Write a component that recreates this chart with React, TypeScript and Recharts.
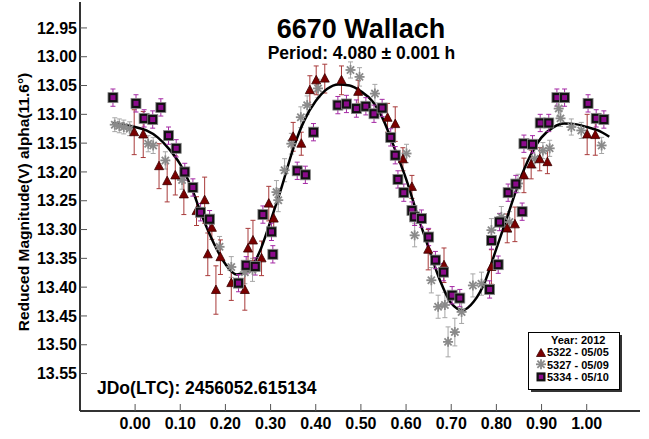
import React from 'react';
import { ComposedChart, Scatter, Line, XAxis, YAxis, ErrorBar } from 'recharts';

const FONT = '"Liberation Sans", Arial, sans-serif';

const X_TICKS = [0, 0.1, 0.2, 0.3, 0.4, 0.5, 0.6, 0.7, 0.8, 0.9, 1.0];
const Y_TICKS = [12.95, 13.0, 13.05, 13.1, 13.15, 13.2, 13.25, 13.3, 13.35, 13.4, 13.45, 13.5, 13.55];

// [phase, magnitude, error]
const SESSION_5322 = [
  [-0.002, 13.131, 0.039], [0.018, 13.135, 0.04], [0.053, 13.19, 0.039], [0.071, 13.216, 0.036],
  [0.089, 13.206, 0.034], [0.108, 13.239, 0.035], [0.136, 13.268, 0.025], [0.154, 13.249, 0.04],
  [0.17, 13.297, 0.02], [0.161, 13.343, 0.037], [0.179, 13.405, 0.042], [0.189, 13.348, 0.03],
  [0.213, 13.393, 0.03], [0.243, 13.405, 0.035], [0.25, 13.333, 0.035], [0.261, 13.319, 0.035],
  [0.28, 13.35, 0.03], [0.296, 13.255, 0.03], [0.307, 13.281, 0.02], [0.35, 13.139, 0.025],
  [0.368, 13.151, 0.02], [0.387, 13.058, 0.025], [0.401, 13.041, 0.025], [0.42, 13.038, 0.025],
  [0.457, 13.041, 0.025], [0.494, 13.061, 0.02], [0.559, 13.106, 0.025], [0.576, 13.117, 0.03],
  [0.593, 13.178, 0.02], [0.613, 13.226, 0.02], [0.649, 13.335, 0.035], [0.684, 13.362, 0.03],
  [0.789, 13.365, 0.03], [0.824, 13.298, 0.025], [0.841, 13.291, 0.03], [0.861, 13.206, 0.03],
  [0.877, 13.187, 0.025], [0.896, 13.178, 0.02], [0.913, 13.183, 0.02], [1.001, 13.135, 0.035],
  [1.019, 13.136, 0.035],
];

const SESSION_5327 = [
  [-0.045, 13.118, 0.012], [-0.035, 13.12, 0.012], [-0.025, 13.122, 0.012], [-0.012, 13.125, 0.012],
  [0.029, 13.151, 0.014], [0.04, 13.154, 0.014], [0.067, 13.18, 0.015], [0.104, 13.214, 0.016],
  [0.187, 13.33, 0.018], [0.213, 13.365, 0.018], [0.243, 13.374, 0.02], [0.26, 13.37, 0.02],
  [0.313, 13.235, 0.02], [0.317, 13.249, 0.02], [0.331, 13.197, 0.02], [0.346, 13.151, 0.018],
  [0.367, 13.105, 0.018], [0.381, 13.084, 0.016], [0.405, 13.055, 0.016], [0.477, 13.023, 0.014],
  [0.497, 13.035, 0.016], [0.531, 13.064, 0.016], [0.601, 13.168, 0.016], [0.619, 13.31, 0.02],
  [0.656, 13.388, 0.022], [0.671, 13.434, 0.02], [0.686, 13.431, 0.022], [0.693, 13.495, 0.026],
  [0.708, 13.478, 0.024], [0.723, 13.443, 0.02], [0.748, 13.397, 0.02], [0.767, 13.394, 0.02],
  [0.789, 13.301, 0.02], [0.811, 13.278, 0.018], [0.829, 13.287, 0.018], [0.848, 13.22, 0.016],
  [0.885, 13.177, 0.016], [0.903, 13.163, 0.014], [0.918, 13.159, 0.014], [0.938, 13.09, 0.014],
  [0.942, 13.107, 0.014], [0.966, 13.122, 0.014], [0.988, 13.128, 0.014], [1.033, 13.154, 0.014],
];

const SESSION_5334 = [
  [-0.049, 13.071, 0.015], [0.002, 13.081, 0.015], [0.02, 13.107, 0.015], [0.039, 13.109, 0.015],
  [0.057, 13.088, 0.015], [0.074, 13.137, 0.015], [0.091, 13.159, 0.015], [0.11, 13.2, 0.015],
  [0.128, 13.227, 0.015], [0.145, 13.27, 0.015], [0.165, 13.282, 0.015], [0.229, 13.393, 0.015],
  [0.246, 13.362, 0.015], [0.266, 13.364, 0.015], [0.283, 13.274, 0.015], [0.302, 13.304, 0.015],
  [0.305, 13.343, 0.015], [0.359, 13.198, 0.015], [0.377, 13.205, 0.015], [0.395, 13.131, 0.015],
  [0.449, 13.084, 0.015], [0.468, 13.082, 0.015], [0.49, 13.09, 0.015], [0.511, 13.086, 0.015],
  [0.529, 13.099, 0.015], [0.547, 13.089, 0.015], [0.566, 13.14, 0.015], [0.576, 13.171, 0.015],
  [0.582, 13.213, 0.015], [0.595, 13.236, 0.015], [0.613, 13.267, 0.015], [0.619, 13.278, 0.015],
  [0.634, 13.281, 0.015], [0.65, 13.313, 0.015], [0.665, 13.353, 0.015], [0.683, 13.374, 0.015],
  [0.702, 13.414, 0.015], [0.719, 13.419, 0.015], [0.785, 13.404, 0.015], [0.789, 13.319, 0.015],
  [0.804, 13.361, 0.015], [0.807, 13.287, 0.015], [0.826, 13.236, 0.015], [0.843, 13.221, 0.015],
  [0.857, 13.269, 0.015], [0.861, 13.151, 0.015], [0.88, 13.152, 0.015], [0.897, 13.115, 0.015],
  [0.916, 13.115, 0.015], [0.934, 13.071, 0.015], [0.951, 13.071, 0.015], [1.003, 13.081, 0.015],
  [1.021, 13.107, 0.015], [1.038, 13.109, 0.015],
];

// fitted Fourier curve
const FIT_PHASE = [
  -0.05, -0.025, 0, 0.025, 0.05, 0.075, 0.1, 0.125, 0.15, 0.175, 0.2, 0.225, 0.25, 0.275, 0.3,
  0.325, 0.35, 0.375, 0.4, 0.425, 0.45, 0.475, 0.5, 0.525, 0.55, 0.575, 0.6, 0.625, 0.65, 0.675,
  0.7, 0.725, 0.75, 0.775, 0.8, 0.825, 0.85, 0.875, 0.9, 0.925, 0.95, 0.975, 1.0, 1.025, 1.05,
];
const FIT_MAG = [
  13.115, 13.118, 13.122, 13.128, 13.14, 13.16, 13.187, 13.228, 13.28, 13.325, 13.36, 13.378, 13.372, 13.34, 13.285,
  13.225, 13.16, 13.11, 13.077, 13.056, 13.048, 13.05, 13.06, 13.077, 13.11, 13.16, 13.212, 13.274, 13.332, 13.388,
  13.428, 13.44, 13.425, 13.39, 13.333, 13.276, 13.218, 13.172, 13.14, 13.123, 13.116, 13.117, 13.122, 13.128, 13.139,
];

const toPoints = (rows: number[][]) => rows.map(([x, y, e]) => ({ x, y, e }));
const fitData = FIT_PHASE.map((x, i) => ({ x, y: FIT_MAG[i] }));

const Triangle = ({ cx, cy }: any) => (
  <polygon
    points={`${cx},${cy - 5} ${cx - 4.5},${cy + 3.5} ${cx + 4.5},${cy + 3.5}`}
    fill="#7a0000"
    stroke="#3b0000"
    strokeWidth={0.8}
  />
);

const Square = ({ cx, cy }: any) => (
  <g>
    <rect x={cx - 5} y={cy - 5} width={10} height={10} fill="#111" stroke="#888" strokeWidth={0.8} />
    <rect x={cx - 2.5} y={cy - 2.5} width={5} height={5} fill="#8b0a8b" />
  </g>
);

const Star = ({ cx, cy }: any) => (
  <g stroke="#8a8a8a" strokeWidth={1.8}>
    <line x1={cx - 5} y1={cy} x2={cx + 5} y2={cy} />
    <line x1={cx} y1={cy - 5} x2={cx} y2={cy + 5} />
    <line x1={cx - 3.6} y1={cy - 3.6} x2={cx + 3.6} y2={cy + 3.6} />
    <line x1={cx - 3.6} y1={cy + 3.6} x2={cx + 3.6} y2={cy - 3.6} />
  </g>
);

const tickStyle = { fill: '#000', fontSize: 16, fontWeight: 'bold', fontFamily: FONT };
const frame = { stroke: '#333', strokeWidth: 2 };
const tickLn = { stroke: '#555', strokeWidth: 1 };

export default function App() {
  return (
    <div style={{ position: 'absolute', left: 0, top: 0, width: 649, height: 439, background: '#fff' }}>
      <ComposedChart width={649} height={439} margin={{ top: 2, right: 9, bottom: 0, left: 0 }}>
        <XAxis
          type="number"
          dataKey="x"
          domain={[-0.122, 1.118]}
          ticks={X_TICKS}
          allowDataOverflow
          tickFormatter={(v: number) => v.toFixed(2)}
          height={28}
          tickSize={-7}
          tickMargin={14}
          axisLine={frame}
          tickLine={tickLn}
          tick={tickStyle}
        />
        <XAxis
          xAxisId="top"
          orientation="top"
          type="number"
          domain={[-0.122, 1.118]}
          ticks={X_TICKS}
          allowDataOverflow
          height={0}
          tickSize={-7}
          axisLine={frame}
          tickLine={tickLn}
          tick={false}
        />
        <YAxis
          type="number"
          dataKey="y"
          reversed
          domain={[12.905, 13.615]}
          ticks={Y_TICKS}
          allowDataOverflow
          tickFormatter={(v: number) => v.toFixed(2)}
          width={80}
          tickSize={-7}
          tickMargin={10}
          axisLine={frame}
          tickLine={tickLn}
          tick={tickStyle}
        />
        <YAxis
          yAxisId="right"
          orientation="right"
          type="number"
          reversed
          domain={[12.905, 13.615]}
          ticks={Y_TICKS}
          allowDataOverflow
          width={0}
          tickSize={-7}
          axisLine={frame}
          tickLine={tickLn}
          tick={false}
        />
        <Scatter data={toPoints(SESSION_5327)} shape={Star} isAnimationActive={false}>
          <ErrorBar dataKey="e" direction="y" width={2.5} stroke="#a6a6a6" strokeWidth={1} isAnimationActive={false} />
        </Scatter>
        <Scatter data={toPoints(SESSION_5322)} shape={Triangle} isAnimationActive={false}>
          <ErrorBar dataKey="e" direction="y" width={2.5} stroke="#a83a3a" strokeWidth={1} isAnimationActive={false} />
        </Scatter>
        <Line data={fitData} dataKey="y" type="monotone" stroke="#000" strokeWidth={2.5} dot={false} isAnimationActive={false} />
        <Scatter data={toPoints(SESSION_5334)} shape={Square} isAnimationActive={false}>
          <ErrorBar dataKey="e" direction="y" width={2.5} stroke="#a52aa5" strokeWidth={1} isAnimationActive={false} />
        </Scatter>
      </ComposedChart>

      <svg width={649} height={439} style={{ position: 'absolute', left: 0, top: 0, pointerEvents: 'none' }} fontFamily={FONT} fontWeight="bold">
        <text x={361} y={37.5} fontSize={27} textAnchor="middle">6670 Wallach</text>
        <text x={361.5} y={59} fontSize={17.5} textAnchor="middle">Period: 4.080 ± 0.001 h</text>
        <text x={97} y={394} fontSize={17.5}>JDo(LTC): 2456052.615134</text>
        <text transform="translate(28.5,202) rotate(-90)" fontSize={15.5} textAnchor="middle">
          Reduced Magnitude(V) alpha(11.6°)
        </text>

        <rect x={531} y={335} width={91} height={57} fill="#333" />
        <rect x={528.5} y={332.5} width={91} height={57} fill="#fff" stroke="#000" strokeWidth={1} />
        <text x={551} y={344} fontSize={11}>Year: 2012</text>
        <polygon points="541,348.5 536.5,356.5 545.5,356.5" fill="#7a0000" stroke="#3b0000" strokeWidth={0.8} />
        <text x={547} y={356.3} fontSize={11}>5322 - 05/05</text>
        <g stroke="#8a8a8a" strokeWidth={1.8}>
          <line x1={536} y1={364.3} x2={546} y2={364.3} />
          <line x1={541} y1={359.3} x2={541} y2={369.3} />
          <line x1={537.4} y1={360.7} x2={544.6} y2={367.9} />
          <line x1={537.4} y1={367.9} x2={544.6} y2={360.7} />
        </g>
        <text x={547} y={368.6} fontSize={11}>5327 - 05/09</text>
        <rect x={536.5} y={372.4} width={9} height={9} fill="#111" />
        <rect x={538.8} y={374.7} width={4.4} height={4.4} fill="#8b0a8b" />
        <text x={547} y={380.9} fontSize={11}>5334 - 05/10</text>
      </svg>
    </div>
  );
}
